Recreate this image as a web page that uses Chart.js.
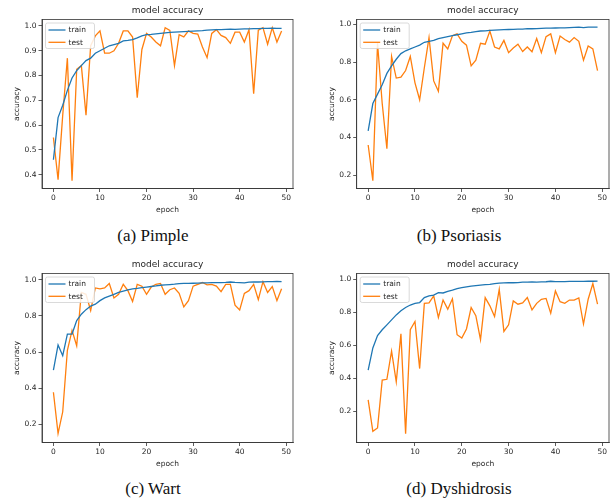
<!DOCTYPE html>
<html>
<head>
<meta charset="utf-8">
<script src="https://cdn.jsdelivr.net/npm/chart.js@4.4.1/dist/chart.umd.min.js"></script>
<style>
  html, body { margin: 0; padding: 0; background: #fff; }
  #page { position: relative; width: 613px; height: 500px; overflow: hidden; }
  canvas { position: absolute; }
  .cap { position: absolute; width: 306px; text-align: center; line-height: 20px;
    font-family: "Liberation Serif", "Times New Roman", serif; font-size: 17px; color: #111; }
</style>
</head>
<body>
<div id="page">
  <canvas id="cA" width="306" height="225" style="left:0;top:0"></canvas>
  <canvas id="cB" width="307" height="225" style="left:306px;top:0"></canvas>
  <canvas id="cC" width="306" height="225" style="left:0;top:254px"></canvas>
  <canvas id="cD" width="307" height="225" style="left:306px;top:254px"></canvas>
  <div class="cap" style="left:0;top:226px">(a) Pimple</div>
  <div class="cap" style="left:306px;top:226px">(b) Psoriasis</div>
  <div class="cap" style="left:0;top:479px">(c) Wart</div>
  <div class="cap" style="left:306px;top:479px">(d) Dyshidrosis</div>
</div>
<script>
// --- data ------------------------------------------------------------------
var EPOCHS = Array.from({ length: 50 }, function (_, i) { return i; });
var X_TICKS = [0, 10, 20, 30, 40, 50];
var Y_TICKS_A = [0.4, 0.5, 0.6, 0.7, 0.8, 0.9, 1.0];
var Y_TICKS = [0.2, 0.4, 0.6, 0.8, 1.0];

var TRAIN_A = [0.46, 0.63, 0.68, 0.74, 0.79, 0.82, 0.84, 0.86, 0.87, 0.89,
  0.90, 0.91, 0.92, 0.925, 0.93, 0.94, 0.942, 0.945, 0.952, 0.96,
  0.965, 0.966, 0.968, 0.97, 0.972, 0.974, 0.975, 0.976, 0.977, 0.978,
  0.979, 0.98, 0.981, 0.983, 0.984, 0.985, 0.985, 0.986, 0.987, 0.986,
  0.987, 0.988, 0.988, 0.989, 0.989, 0.99, 0.99, 0.991, 0.99, 0.99];
var TEST_A = [0.55, 0.38, 0.64, 0.87, 0.375, 0.825, 0.84, 0.64, 0.92, 0.96,
  0.98, 0.89, 0.89, 0.90, 0.93, 0.98, 0.98, 0.955, 0.71, 0.905,
  0.97, 0.955, 0.935, 0.92, 0.993, 0.982, 0.84, 0.965, 0.956, 0.98,
  0.97, 0.967, 0.915, 0.872, 0.97, 0.985, 0.962, 0.953, 0.93, 0.975,
  0.975, 0.935, 0.985, 0.727, 0.983, 0.993, 0.926, 0.993, 0.935, 0.98];

var TRAIN_B = [0.435, 0.58, 0.63, 0.68, 0.74, 0.78, 0.815, 0.845, 0.86, 0.87,
  0.88, 0.89, 0.905, 0.91, 0.915, 0.925, 0.93, 0.935, 0.94, 0.945,
  0.95, 0.955, 0.958, 0.962, 0.965, 0.966, 0.968, 0.97, 0.971, 0.972,
  0.973, 0.974, 0.975, 0.975, 0.978, 0.977, 0.978, 0.979, 0.98, 0.98,
  0.981, 0.982, 0.982, 0.983, 0.984, 0.985, 0.983, 0.985, 0.985, 0.985];
var TEST_B = [0.36, 0.17, 0.90, 0.58, 0.34, 0.83, 0.715, 0.72, 0.755, 0.83,
  0.69, 0.60, 0.77, 0.93, 0.70, 0.645, 0.90, 0.87, 0.94, 0.95,
  0.91, 0.89, 0.78, 0.81, 0.90, 0.895, 0.965, 0.88, 0.87, 0.915,
  0.85, 0.875, 0.895, 0.856, 0.88, 0.855, 0.925, 0.85, 0.935, 0.95,
  0.85, 0.938, 0.92, 0.906, 0.93, 0.91, 0.81, 0.885, 0.87, 0.755];

var TRAIN_C = [0.50, 0.64, 0.58, 0.70, 0.70, 0.775, 0.81, 0.835, 0.855, 0.865,
  0.885, 0.90, 0.91, 0.92, 0.93, 0.938, 0.945, 0.95, 0.953, 0.957,
  0.96, 0.963, 0.966, 0.97, 0.972, 0.974, 0.976, 0.979, 0.98, 0.98,
  0.981, 0.982, 0.983, 0.983, 0.984, 0.985, 0.985, 0.986, 0.988, 0.986,
  0.985, 0.983, 0.987, 0.988, 0.988, 0.989, 0.99, 0.99, 0.991, 0.99];
var TEST_C = [0.378, 0.15, 0.27, 0.61, 0.72, 0.635, 0.93, 0.92, 0.83, 0.955,
  0.95, 0.955, 0.98, 0.90, 0.92, 0.975, 0.94, 0.88, 0.975, 0.965,
  0.92, 0.96, 0.975, 0.98, 0.92, 0.945, 0.955, 0.925, 0.85, 0.885,
  0.965, 0.975, 0.985, 0.972, 0.975, 0.965, 0.935, 0.975, 0.975, 0.86,
  0.833, 0.925, 0.94, 0.975, 0.89, 0.99, 0.93, 0.963, 0.885, 0.95];

var TRAIN_D = [0.45, 0.585, 0.66, 0.695, 0.725, 0.755, 0.785, 0.81, 0.83, 0.845,
  0.855, 0.86, 0.89, 0.90, 0.905, 0.92, 0.918, 0.928, 0.935, 0.945,
  0.95, 0.955, 0.96, 0.963, 0.966, 0.968, 0.97, 0.975, 0.978, 0.979,
  0.98, 0.98, 0.981, 0.984, 0.984, 0.985, 0.984, 0.985, 0.986, 0.989,
  0.987, 0.987, 0.987, 0.988, 0.988, 0.988, 0.988, 0.989, 0.989, 0.99];
var TEST_D = [0.27, 0.08, 0.10, 0.39, 0.395, 0.565, 0.38, 0.67, 0.065, 0.695,
  0.745, 0.46, 0.855, 0.858, 0.90, 0.77, 0.875, 0.82, 0.883, 0.665,
  0.645, 0.70, 0.83, 0.78, 0.635, 0.89, 0.84, 0.775, 0.94, 0.685,
  0.725, 0.87, 0.85, 0.858, 0.89, 0.815, 0.855, 0.88, 0.885, 0.795,
  0.93, 0.865, 0.855, 0.875, 0.875, 0.888, 0.73, 0.88, 0.975, 0.85];

var TITLE = "model accuracy";
var TRAIN_COLOR = "#1f77b4", TEST_COLOR = "#ff7f0e";
var INK = "#262626", SPINE = "#333";

Chart.defaults.font.family = '"DejaVu Sans", sans-serif';
Chart.defaults.color = INK;

// spines, title and in-axes legend, drawn like matplotlib's defaults
var decor = {
  id: "decor",
  afterDraw: function (chart) {
    var a = chart.chartArea, ctx = chart.ctx;
    ctx.save();
    ctx.strokeStyle = SPINE; ctx.lineWidth = 0.8;
    ctx.strokeRect(a.left, a.top, a.right - a.left, a.bottom - a.top);

    ctx.fillStyle = INK; ctx.font = '9px "DejaVu Sans"';
    ctx.textAlign = "center"; ctx.textBaseline = "middle";
    ctx.fillText(TITLE, (a.left + a.right) / 2, a.top - 8.5);

    var x0 = a.left + 3, y0 = a.top + 3, w = 49, h = 25.5;
    ctx.beginPath();
    if (ctx.roundRect) ctx.roundRect(x0 + 0.5, y0 + 0.5, w, h, 2); else ctx.rect(x0 + 0.5, y0 + 0.5, w, h);
    ctx.fillStyle = "rgba(255,255,255,0.85)"; ctx.fill();
    ctx.strokeStyle = "#d0d0d0"; ctx.lineWidth = 0.8; ctx.stroke();
    ctx.font = '7.5px "DejaVu Sans"'; ctx.textAlign = "left";
    chart.data.datasets.forEach(function (ds, i) {
      var y = y0 + 7.5 + i * 12.3;
      ctx.strokeStyle = ds.borderColor; ctx.lineWidth = 1.3;
      ctx.beginPath(); ctx.moveTo(x0 + 3.5, y); ctx.lineTo(x0 + 20.5, y); ctx.stroke();
      ctx.fillStyle = INK; ctx.fillText(ds.label, x0 + 23.5, y + 0.5);
    });
    ctx.restore();
  }
};

function axisBase(title) {
  return {
    type: "linear",
    grid: { drawOnChartArea: false, drawTicks: true, tickLength: 3.5, color: SPINE, lineWidth: 0.8 },
    border: { display: true, color: SPINE, width: 0.8 },
    ticks: { font: { size: 7.5 }, color: INK, padding: 2, autoSkip: false, maxRotation: 0, includeBounds: false },
    title: { display: true, text: title, font: { size: 7.5 }, color: INK, padding: { top: 4, bottom: 4 } }
  };
}

function makePanel(id, train, test, ymin, ymax, yticks, pad, yWidth) {
  var x = axisBase("epoch");
  x.min = -2.45; x.max = 51.45;
  x.afterBuildTicks = function (s) { s.ticks = X_TICKS.map(function (v) { return { value: v }; }); };
  x.ticks.callback = function (v) { return String(v); };
  x.afterFit = function (s) { s.height = 30; };

  var y = axisBase("accuracy");
  y.min = ymin; y.max = ymax;
  y.afterBuildTicks = function (s) { s.ticks = yticks.map(function (v) { return { value: v }; }); };
  y.ticks.callback = function (v) { return v.toFixed(1); };
  y.afterFit = function (s) { s.width = yWidth; };

  function pts(arr) { return arr.map(function (v, i) { return { x: EPOCHS[i], y: v }; }); }

  return new Chart(document.getElementById(id), {
    type: "line",
    data: { datasets: [
      { label: "train", data: pts(train), borderColor: TRAIN_COLOR, borderWidth: 1.3, pointRadius: 0, tension: 0 },
      { label: "test", data: pts(test), borderColor: TEST_COLOR, borderWidth: 1.3, pointRadius: 0, tension: 0 }
    ] },
    options: {
      responsive: false, animation: false, devicePixelRatio: 1,
      layout: { padding: pad },
      plugins: { legend: { display: false }, tooltip: { enabled: false } },
      scales: { x: x, y: y }
    },
    plugins: [decor]
  });
}

var PAD_L = { left: 9, top: 19.5, right: 13, bottom: 6.5 };
var PAD_R = { left: 18, top: 19.5, right: 4, bottom: 6.5 };

makePanel("cA", TRAIN_A, TEST_A, 0.344, 1.026, Y_TICKS_A, PAD_L, 33);
makePanel("cB", TRAIN_B, TEST_B, 0.129, 1.026, Y_TICKS, PAD_R, 32.7);
makePanel("cC", TRAIN_C, TEST_C, 0.100, 1.035, Y_TICKS, PAD_L, 33);
makePanel("cD", TRAIN_D, TEST_D, 0.012, 1.036, Y_TICKS, PAD_R, 32.7);
</script>
</body>
</html>
